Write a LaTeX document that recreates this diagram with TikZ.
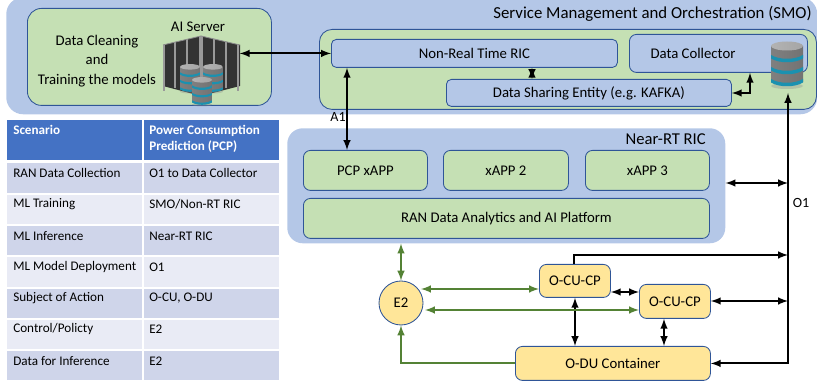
\documentclass[tikz,border=0pt]{standalone}
\usepackage{fontspec}
\setmainfont{Carlito}
\usetikzlibrary{calc}
\definecolor{smoblue}{HTML}{B4C7E7}
\definecolor{boxgreen}{HTML}{C5E0B4}
\definecolor{boxyellow}{HTML}{FFE699}
\definecolor{edgeblue}{HTML}{2F5597}
\definecolor{linkgreen}{HTML}{548235}
\definecolor{headblue}{HTML}{4472C4}
\definecolor{rowdark}{HTML}{CFD5EA}
\definecolor{rowlight}{HTML}{E9EBF5}
\definecolor{bandcyan}{HTML}{22B5DC}
\def\pxu{0.025cm}
\tikzset{
    base/.style={anchor=north west, inner sep=0pt, align=center, font=\fontsize{10.5}{12.5}\selectfont},
    panel/.style={base, fill=smoblue},
    greenbox/.style={base, draw=edgeblue, line width=0.6pt, fill=boxgreen},
    bluebox/.style={base, draw=edgeblue, line width=0.6pt, fill=smoblue},
    yellowbox/.style={base, draw=edgeblue, line width=0.6pt, fill=boxyellow},
    txt/.style={inner sep=0pt, align=center, font=\fontsize{10.5}{12.5}\selectfont},
    cell/.style={anchor=west, inner sep=0pt, font=\fontsize{9.35}{11}\selectfont},
    headcell/.style={anchor=north west, inner sep=0pt, align=left, text=white, font=\fontsize{9.35}{11.4}\selectfont\bfseries},
    blacklink/.style={latex-latex, line width=1.4pt},
    greenlink/.style={latex-latex, line width=1.4pt, draw=linkgreen, color=linkgreen},
    dbcyl/.pic={
        \fill[black!45, opacity=0.35] (0,22) ellipse [x radius=16, y radius=3];
        \shade[left color=black!50, middle color=black!3, right color=black!55]
            (-16,-18) -- (16,-18) -- (16,18) .. controls (8,23) and (-8,23) .. (-16,18) -- cycle;
        \foreach \by in {-9,3,15} {
            \shade[left color=bandcyan!80!black, middle color=bandcyan!65!white, right color=bandcyan!80!black]
                (-16,\by) .. controls (-8,\by+5) and (8,\by+5) .. (16,\by) -- (16,\by+3.5)
                .. controls (8,\by+8.5) and (-8,\by+8.5) .. (-16,\by+3.5) -- cycle;
        }
        \shade[left color=black!30, middle color=black!3, right color=black!35]
            (0,-18) ellipse [x radius=16, y radius=4.5];
    },
}

\begin{document}
\begin{tikzpicture}[x=0.025cm, y=-0.025cm]
    \useasboundingbox (0,0) rectangle (817,385);

    % SMO
    \node[panel, rounded corners=12pt, minimum width=811*\pxu, minimum height=117*\pxu] (smo) at (6,-3) {};
    \node[txt, anchor=east, font=\fontsize{11.95}{13}\selectfont] (smotitle) at (812,14) {Service Management and Orchestration (SMO)};
    \node[greenbox, rounded corners=10pt, minimum width=244*\pxu, minimum height=97*\pxu] (aibox) at (27,8) {};
    \node[txt] (cleaning) at (97,61) {Data Cleaning\\[1.5pt]and\\[1.5pt]Training the models};
    \node[txt] (aititle) at (198,27) {AI Server};

    % server rack
    \node[inner sep=0pt, minimum width=77*\pxu, minimum height=60*\pxu] (server) at (201,66) {};
    \fill[black!80] (163,45) -- (201,36) -- (240,45) -- (240,86) -- (201,96) -- (163,86) -- cycle;
    \foreach \rx/\ry in {164/45, 175/42, 187/39, 200/36, 202/36, 214/39, 226/42, 238/45} {
        \draw[black!40, line width=0.9pt] (\rx,\ry) -- (\rx,{\ry+46});
    }
    \draw[black!45, line width=0.6pt] (163,45) -- (201,36) -- (240,45);
    \pic[scale=0.62] at (190,78) {dbcyl};
    \pic[scale=0.62] at (213,78) {dbcyl};
    \pic[scale=0.62] at (202,91) {dbcyl};

    % inner SMO boxes
    \node[greenbox, rounded corners=9pt, minimum width=497*\pxu, minimum height=80*\pxu] (smoinner) at (319,29) {};
    \node[bluebox, rounded corners=3.5pt, minimum width=286*\pxu, minimum height=28*\pxu] (nonrt) at (331,39) {Non-Real Time RIC};
    \node[bluebox, rounded corners=5pt, minimum width=178*\pxu, minimum height=38*\pxu] (collector) at (629,34) {};
    \node[txt] (collectortext) at (693,53) {Data Collector};
    \node[bluebox, rounded corners=3.5pt, minimum width=285*\pxu, minimum height=27*\pxu] (sharing) at (446,79) {Data Sharing Entity (e.g. KAFKA)};
    \node[inner sep=0pt, minimum width=33*\pxu, minimum height=45*\pxu] (database) at (787,64) {};
    \pic at (787,64) {dbcyl};

    % Near-RT RIC
    \node[panel, rounded corners=11pt, minimum width=438*\pxu, minimum height=115*\pxu] (nearrt) at (287,128) {};
    \node[txt, anchor=east, font=\fontsize{11.8}{13}\selectfont] (nearrttitle) at (706,139) {Near-RT RIC};
    \node[greenbox, rounded corners=5pt, minimum width=124*\pxu, minimum height=40*\pxu] (pcpapp) at (303,150) {PCP xAPP};
    \node[greenbox, rounded corners=5pt, minimum width=125*\pxu, minimum height=40*\pxu] (xapptwo) at (443,150) {xAPP 2};
    \node[greenbox, rounded corners=5pt, minimum width=124*\pxu, minimum height=40*\pxu] (xappthree) at (585,150) {xAPP 3};
    \node[greenbox, rounded corners=5pt, minimum width=406*\pxu, minimum height=40*\pxu] (ranplat) at (303,198) {RAN Data Analytics and AI Platform};

    % RAN nodes
    \node[yellowbox, anchor=center, circle, minimum size=44*\pxu] (etwo) at (401,303) {E2};
    \node[yellowbox, rounded corners=5pt, minimum width=71*\pxu, minimum height=33*\pxu] (ocuone) at (539,264) {O-CU-CP};
    \node[yellowbox, rounded corners=5pt, minimum width=71*\pxu, minimum height=34*\pxu] (ocutwo) at (639,284) {O-CU-CP};
    \node[yellowbox, rounded corners=5pt, minimum width=195*\pxu, minimum height=34*\pxu] (odu) at (515,346) {O-DU Container};

    % table
    \fill[headblue] (7,120) rectangle (142,160);
    \fill[headblue] (144,120) rectangle (279,160);
    \foreach \ya/\yb/\rowfill in {163/193/rowdark, 195/224/rowlight, 226/255/rowdark, 257/287/rowlight, 289/318/rowdark, 320/349/rowlight, 351/380/rowdark} {
        \fill[\rowfill] (7,\ya) rectangle (142,\yb);
        \fill[\rowfill] (144,\ya) rectangle (279,\yb);
    }
    \node[headcell] (scenhead) at (13,125) {Scenario};
    \node[headcell] (pcphead) at (149,125) {Power Consumption\\Prediction (PCP)};
    \node[cell] (rowa) at (13,173) {RAN Data Collection};
    \node[cell] (vala) at (149,173) {O1 to Data Collector};
    \node[cell] (rowb) at (13,204) {ML Training};
    \node[cell] (valb) at (149,204) {SMO/Non-RT RIC};
    \node[cell] (rowc) at (13,236) {ML Inference};
    \node[cell] (valc) at (149,236) {Near-RT RIC};
    \node[cell] (rowd) at (13,267) {ML Model Deployment};
    \node[cell] (vald) at (149,267) {O1};
    \node[cell] (rowe) at (13,298) {Subject of Action};
    \node[cell] (vale) at (149,298) {O-CU, O-DU};
    \node[cell] (rowf) at (13,329) {Control/Policty};
    \node[cell] (valf) at (149,329) {E2};
    \node[cell] (rowg) at (13,361) {Data for Inference};
    \node[cell] (valg) at (149,361) {E2};

    % helper coordinates for the links
    \coordinate (aonex) at (347,110);
    \coordinate (oonex) at (788,110);
    \coordinate (sharex) at (532,70);
    \coordinate (turn) at (750,93);
    \coordinate (dbtip) at (788,93);
    \coordinate (ocuonex) at (575,300);
    \coordinate (ocutwox) at (664,330);
    \coordinate (etwoa) at (421,289);
    \coordinate (etwob) at (425,310);
    \coordinate (ocumid) at (625,292);
    \coordinate (ocuright) at (750,301);
    \coordinate (nearlink) at (750,183);
    \coordinate (ocutop) at (574,255);

    % links
    \draw[blacklink] (server.east |- nonrt.west) -- (nonrt.west);
    \draw[blacklink] (aonex |- nonrt.south) -- (aonex |- pcpapp.north);
    \node[txt, font=\fontsize{10}{11}\selectfont] (aonelabel) at (338,117) {A1};
    \draw[blacklink] (sharex |- nonrt.south) -- (sharex |- sharing.north);
    \draw[blacklink] (sharing.east |- turn) -- (turn) -- (turn |- collector.south);
    \draw[blacklink] (odu.east) -- (oonex |- odu.east) -- (dbtip);
    \node[txt, font=\fontsize{10}{11}\selectfont] (oonelabel) at (801,203) {O1};
    \draw[blacklink] (nearrt.east |- nearlink) -- (oonex |- nearlink);
    \draw[-latex, line width=1.4pt] (ocutop |- ocuone.north) -- (ocutop) -- (oonex |- ocutop);
    \draw[blacklink] (ocutwo.east |- ocuright) -- (oonex |- ocuright);
    \draw[blacklink] (ocuone.east |- ocumid) -- (ocutwo.west |- ocumid);
    \draw[blacklink] (ocuonex |- ocuone.south) -- (ocuonex |- odu.north);
    \draw[blacklink] (ocutwox |- ocutwo.south) -- (ocutwox |- odu.north);

    \draw[greenlink] (etwo.north) -- (etwo.north |- nearrt.south);
    \draw[greenlink] (etwoa) -- (ocuone.west |- etwoa);
    \draw[greenlink] (etwob) -- (ocutwo.west |- etwob);
    \draw[-latex, line width=1.4pt, draw=linkgreen, color=linkgreen] (odu.west) -| (etwo.south);
\end{tikzpicture}
\end{document}
